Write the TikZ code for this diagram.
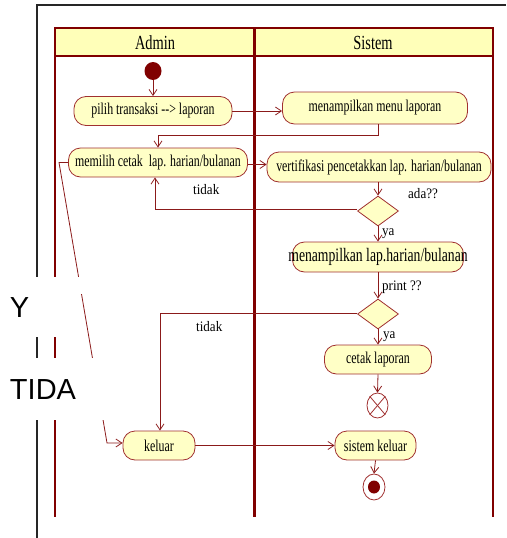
\documentclass[tikz,border=0pt]{standalone}
\usepackage{fontspec}
\setmainfont{Liberation Serif}
\newfontfamily\nf[FakeStretch=0.72]{Liberation Serif}
\newfontfamily\lf[FakeStretch=0.9]{Liberation Serif}
\newfontfamily\ysans{Liberation Sans}
\usetikzlibrary{shapes.geometric,arrows.meta}
\definecolor{lanered}{HTML}{800000}
\definecolor{nodered}{HTML}{A03030}
\definecolor{arrowred}{HTML}{8B1A1A}
\definecolor{startred}{HTML}{800000}
\definecolor{headfill}{HTML}{FFFFB9}
\definecolor{nodefill}{HTML}{FFFFC6}
\begin{document}
\begin{tikzpicture}[x=1pt,y=-1pt,
  lane/.style={draw=lanered, line width=1.5pt},
  act/.style={draw=nodered, fill=nodefill, rounded corners=12pt, minimum height=29pt, inner sep=2pt, line width=0.8pt, font=\nf\fontsize{16.5}{18}\selectfont},
  dec/.style={diamond, draw=nodered, fill=nodefill, minimum width=41pt, minimum height=30pt, inner sep=0pt, line width=0.8pt},
  flow/.style={draw=arrowred, line width=0.8pt, -{Straight Barb[length=6pt,width=8pt]}},
  lbl/.style={font=\lf\fontsize{14.5}{16}\selectfont, inner sep=0pt, anchor=west},
  big/.style={font=\ysans\fontsize{29}{30}\selectfont, inner sep=0pt}
]
\useasboundingbox (0,0) rectangle (506,538);
% outer black frame
\draw[line width=1.5pt, black!85] (37,538) -- (37,5) -- (506,5);
% swimlanes
\draw[lane, fill=headfill] (55,28) rectangle (493,56);
\draw[lane] (55,56) -- (55,517);
\draw[lane] (493,56) -- (493,517);
\draw[draw=lanered, line width=3pt] (254,28) -- (254,517);
\node[font=\nf\fontsize{20}{22}\selectfont] (hadmin) at (155,43) {Admin};
\node[font=\nf\fontsize{20}{22}\selectfont] (hsistem) at (373,43) {Sistem};
% nodes
\node[ellipse, fill=startred, minimum width=17pt, minimum height=18pt, inner sep=0pt] (start) at (153,71) {};
\node[act, minimum width=158pt] (pilih) at (153,111) {pilih transaksi -{}-> laporan};
\node[act, minimum width=185pt, minimum height=32pt] (menu) at (375,108) {menampilkan menu laporan};
\node[act, minimum width=179pt] (milih) at (158,162.5) {memilih cetak\ \ lap. harian/bulanan};
\node[act, minimum width=224pt, minimum height=30pt] (verif) at (379,167) {vertifikasi pencetakkan lap. harian/bulanan};
\node[dec] (ada) at (378,211) {};
\node[act, minimum width=171pt, minimum height=30pt, font=\nf\fontsize{19}{20}\selectfont] (mlap) at (378,257) {\makebox[0pt]{menampilkan lap.harian/bulanan}};
\node[dec] (prt) at (378,314) {};
\node[act, minimum width=107pt] (cetak) at (378,359.5) {cetak laporan};
\node[ellipse, draw=nodered, fill=white, minimum width=21pt, minimum height=25pt, inner sep=0pt, line width=0.8pt] (ff) at (377.5,405.5) {};
\draw[nodered, line width=0.8pt] (ff.north west) -- (ff.south east) (ff.north east) -- (ff.south west);
\node[act, minimum width=81pt] (skel) at (375.5,445.5) {sistem keluar};
\node[ellipse, draw=nodered, fill=white, minimum width=22pt, minimum height=26pt, inner sep=0pt, line width=0.8pt] (end) at (374,487) {};
\node[ellipse, fill=startred, minimum width=12pt, minimum height=13pt, inner sep=0pt] (endin) at (end.center) {};
\node[act, minimum width=72pt] (kel) at (159,445.5) {keluar};
% connectors
\draw[flow] (start) -- (pilih);
\draw[flow] (pilih.east) -- (pilih.east -| menu.west);
\draw[flow] ([xshift=3pt]menu.south) -- ++(0,11) -| (milih.north);
\draw[flow] ([yshift=-2pt]milih.east) -- ([yshift=-2pt]milih.east -| verif.west);
\draw[flow] (verif.south -| ada.north) -- (ada.north);
\draw[flow] ([yshift=2pt]ada.west) -| ([xshift=-3pt]milih.south);
\node[lbl] (ltidak1) at (193,190) {tidak};
\node[lbl] (lada) at (408,194) {ada??};
\draw[flow] (ada.south) -- (mlap.north);
\node[lbl] (lya1) at (382,234) {ya};
\draw[flow] (mlap.south) -- (prt.north);
\node[lbl] (lprint) at (382,287) {print ??};
\draw[flow] ([yshift=1pt]prt.west) -| ([xshift=1pt]kel.north);
\node[lbl] (ltidak2) at (196,327) {tidak};
\draw[flow] (prt.south) -- (cetak.north);
\node[lbl] (lya2) at (383,337) {ya};
\draw[flow] (cetak.south) -- (ff.north);
\draw[flow] (kel.east) -- (skel.west);
\draw[flow] (skel.south) -- (end.north);
\coordinate (b1) at (59,162.5);
\coordinate (b2) at (107,443);
\draw[flow] (milih.west) -- (b1) -- (b2) -- ([yshift=2.5pt]kel.west);
% white overlays with labels
\fill[white] (0,277) rectangle (76,337);
\fill[white] (0,277) rectangle (85,294);
\fill[white] (0,358) rectangle (106,420);
\node[big] (ylab) at (19.5,307.5) {Y};
\node[big] (tlab) at (43,389.5) {TIDA};
\end{tikzpicture}
\end{document}
